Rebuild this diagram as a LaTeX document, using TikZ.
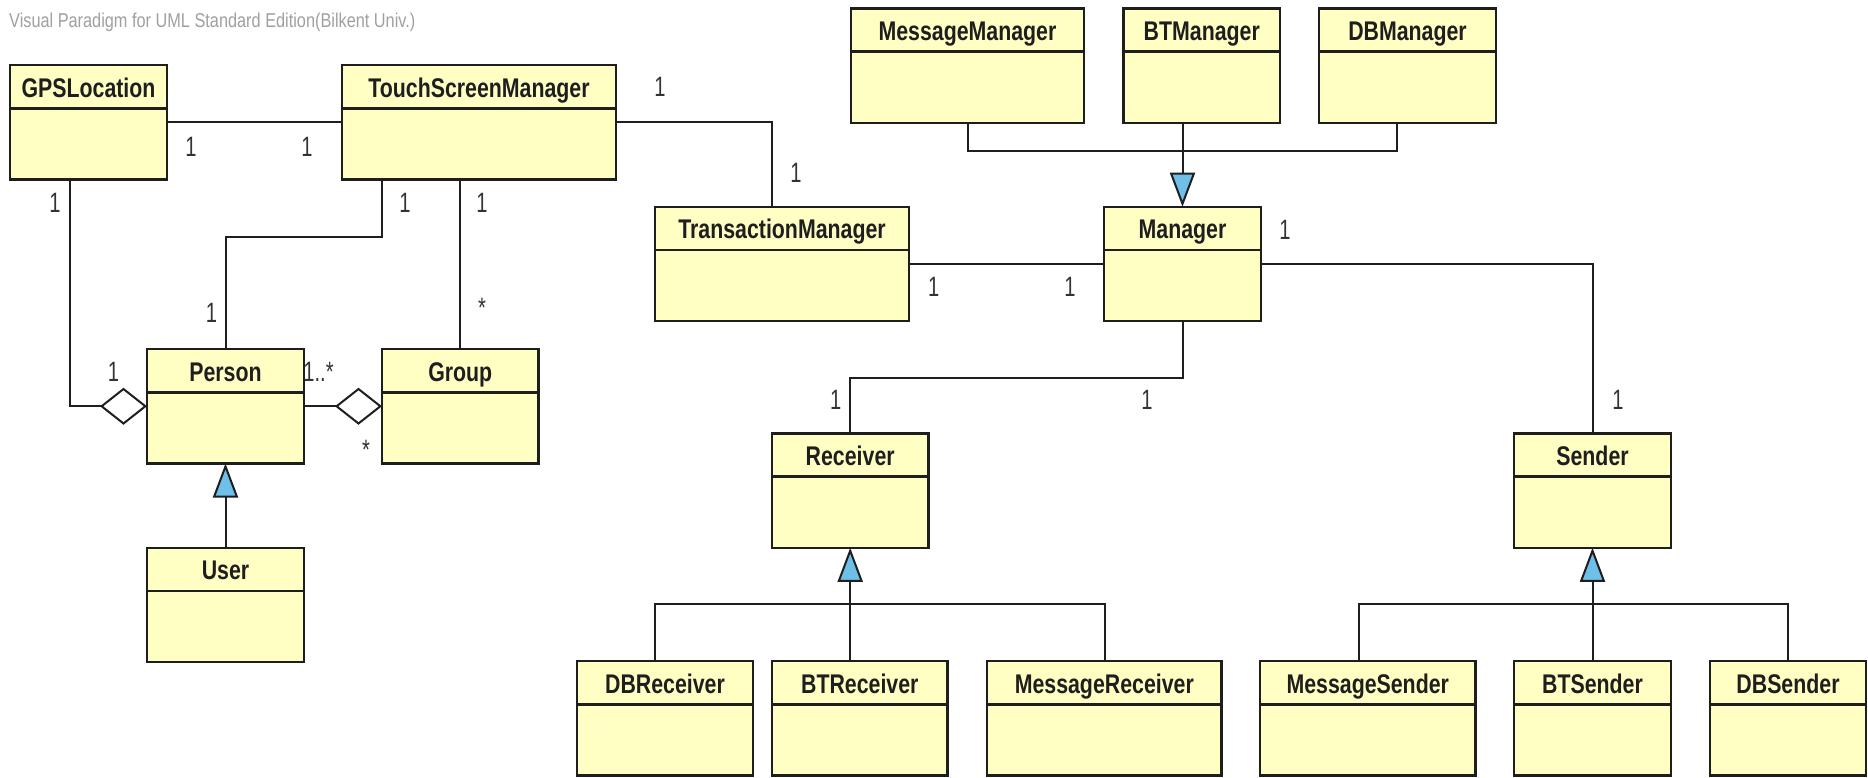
\documentclass[tikz,border=0pt]{standalone}
\usepackage{fontspec}
\setmainfont{Liberation Sans}
\newfontfamily\clsfont[FakeStretch=0.79]{Liberation Sans}
\newfontfamily\multfont[FakeStretch=0.72]{Liberation Sans}
\newfontfamily\wmfont[FakeStretch=0.815]{Liberation Sans}
\usetikzlibrary{arrows.meta}
\definecolor{clsfill}{RGB}{255,255,196}
\definecolor{triblue}{RGB}{110,192,232}
\definecolor{wmgray}{RGB}{160,160,160}
\definecolor{edge}{RGB}{30,30,30}
\tikzset{
  clsbox/.style={draw=edge, line width=2.4pt, fill=clsfill, inner sep=0pt, outer sep=0pt, minimum height=114.5pt},
  clshead/.style={font=\clsfont\bfseries\fontsize{27}{32}\selectfont, anchor=base, inner sep=0pt, text=edge},
  divline/.style={draw=edge, line width=2.4pt},
  conn/.style={draw=edge, line width=2pt},
  mult/.style={font=\multfont\fontsize{28}{32}\selectfont, inner sep=0pt, text=black!80},
  gen/.style={conn, -{Triangle[length=34pt, width=25pt, fill=triblue, line width=2pt]}},
  agg/.style={conn, -{Diamond[length=47pt, width=37pt, fill=white, line width=2pt]}},
  wmark/.style={font=\wmfont\fontsize{20}{24}\selectfont, text=wmgray, anchor=base west, inner sep=0pt},
}
\newcommand\umlclass[5]{%
  \node[clsbox, minimum width={#4-#2}] (#1) at ({(#2+#4)/2},{#3+57.25}) {};
  \draw[divline] ([yshift=-43.3pt]#1.north west) -- ([yshift=-43.3pt]#1.north east);
  \node[clshead] (#1t) at ([yshift=-32pt]#1.north) {#5};
}
\begin{document}
\begin{tikzpicture}[x=1pt, y=-1pt]
  \useasboundingbox[fill=white] (0,0) rectangle (1868,777);
  \node[wmark] (wm) at (9,27.5) {Visual Paradigm for UML Standard Edition(Bilkent Univ.)};

  % classes
  \umlclass{gps}{10}{65}{167}{GPSLocation}
  \umlclass{tsm}{342}{65}{616}{TouchScreenManager}
  \umlclass{mm}{851}{8.3}{1084}{MessageManager}
  \umlclass{btm}{1123.5}{8.3}{1280}{BTManager}
  \umlclass{dbm}{1319}{8.3}{1496}{DBManager}
  \umlclass{tm}{655}{206.7}{909}{TransactionManager}
  \umlclass{mgr}{1104}{206.7}{1261}{Manager}
  \umlclass{per}{147}{349}{304}{Person}
  \umlclass{grp}{382}{349}{538.5}{Group}
  \umlclass{usr}{147}{547.7}{304}{User}
  \umlclass{rec}{772}{433.3}{928.4}{Receiver}
  \umlclass{snd}{1514}{433.3}{1671}{Sender}
  \umlclass{dbr}{577}{661}{753}{DBReceiver}
  \umlclass{btr}{772}{661}{947.6}{BTReceiver}
  \umlclass{msr}{987}{661}{1221.6}{MessageReceiver}
  \umlclass{mss}{1260}{661}{1475.5}{MessageSender}
  \umlclass{bts}{1514}{661}{1671}{BTSender}
  \umlclass{dbs}{1710}{661}{1866}{DBSender}

  % helper coordinates
  \coordinate (k1) at (772,0);
  \coordinate (k2) at (70,0);
  \coordinate (k3) at (382,236.7);
  \coordinate (k4) at (460,0);
  \coordinate (k5) at (968,150.7);
  \coordinate (k6) at (1397,150.7);
  \coordinate (k7) at (0,377.7);
  \coordinate (r1) at (655,604.3);
  \coordinate (r3) at (1104.7,604.3);
  \coordinate (s1) at (1359,604.3);
  \coordinate (s3) at (1788,604.3);

  % associations
  \draw[conn] (gps.east) -- (tsm.west);
  \draw[conn] (tsm.east) -| (tm.north -| k1);
  \draw[agg] (gps.south -| k2) |- (per.west);
  \draw[conn] (tsm.south -| k3) -- (k3) -| (per.north);
  \draw[conn] (tsm.south -| k4) -- (grp.north -| k4);
  \draw[agg] (per.east) -- (grp.west);
  \draw[gen] (usr.north) -- (per.south);

  \draw[conn] (mm.south -| k5) |- (k6) -- (dbm.south -| k6);
  \draw[gen] (btm.south -| mgr.north) -- (mgr.north);
  \draw[conn] (tm.east) -- (mgr.west);
  \draw[conn] (mgr.east) -| (snd.north);
  \draw[conn] (mgr.south) |- (rec.north |- k7) -- (rec.north);

  \draw[conn] (dbr.north -| r1) |- (r3) -- (msr.north -| r3);
  \draw[gen] (btr.north -| rec.south) -- (rec.south);
  \draw[conn] (mss.north -| s1) |- (s3) -- (dbs.north -| s3);
  \draw[gen] (bts.north) -- (snd.south);

  % multiplicities
  \node[mult] (m1) at (191,146.7) {1};
  \node[mult] (m2) at (307,146.7) {1};
  \node[mult] (m3) at (660,86.7) {1};
  \node[mult] (m4) at (796,173.3) {1};
  \node[mult] (m5) at (55,203) {1};
  \node[mult] (m6) at (113.5,371.7) {1};
  \node[mult] (m7) at (405,203) {1};
  \node[mult] (m8) at (211.5,313) {1};
  \node[mult] (m9) at (482,203) {1};
  \node[mult] (m10) at (482,308) {*};
  \node[mult] (m11) at (318.5,372) {1..*};
  \node[mult] (m12) at (366,450) {*};
  \node[mult] (m13) at (933.8,286.7) {1};
  \node[mult] (m14) at (1070,286.7) {1};
  \node[mult] (m15) at (1285,230) {1};
  \node[mult] (m16) at (1618,400) {1};
  \node[mult] (m17) at (835.7,400) {1};
  \node[mult] (m18) at (1147,400) {1};
\end{tikzpicture}
\end{document}
